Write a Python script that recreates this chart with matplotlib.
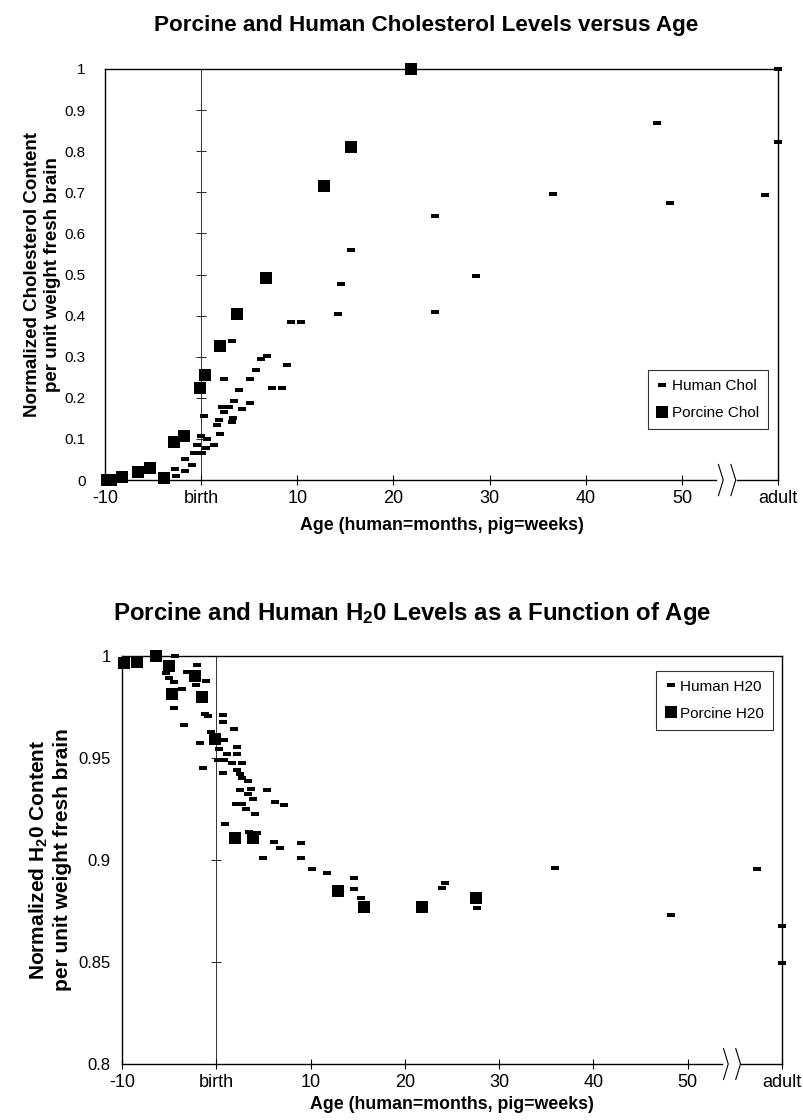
import matplotlib.pyplot as plt
import numpy as np
from matplotlib.lines import Line2D

plt.rcParams['font.family'] = ['Liberation Sans', 'DejaVu Sans']
plt.rcParams['mathtext.fontset'] = 'custom'
plt.rcParams['mathtext.rm'] = 'Liberation Sans:bold'
plt.rcParams['mathtext.default'] = 'rm'

# x axis: human = months, pig = weeks; "adult" is put at 60
xticks = [-10, 0, 10, 20, 30, 40, 50, 60]
xticklabels = ['-10', 'birth', '10', '20', '30', '40', '50', 'adult']

# cholesterol chart
chol_human_age = [-2.7, -2.6, -1.7, -1.7, -1.0, -0.7, -0.4, 0.07, 0.0, 0.5, 0.65, 0.3,
                  1.35, 2.0, 1.7, 1.9, 2.2, 2.4, 2.4, 2.9, 3.2, 3.3, 3.4, 3.2, 3.9, 4.2,
                  5.1, 5.1, 5.7, 6.2, 6.8, 7.4, 8.4, 8.9, 9.3, 10.4, 14.2, 14.5, 15.6,
                  24.3, 24.3, 28.6, 36.6, 47.4, 48.8, 58.6, 60, 60]
chol_human = [0.026, 0.01, 0.052, 0.023, 0.036, 0.065, 0.085, 0.065, 0.107, 0.077, 0.10,
              0.156, 0.085, 0.113, 0.134, 0.146, 0.178, 0.166, 0.245, 0.178, 0.142, 0.152,
              0.193, 0.338, 0.219, 0.172, 0.187, 0.245, 0.268, 0.294, 0.302, 0.223, 0.223,
              0.28, 0.384, 0.384, 0.403, 0.477, 0.56, 0.642, 0.41, 0.497, 0.696, 0.868,
              0.673, 0.693, 1.0, 0.823]
chol_pig_age = [-9.8, -9.4, -8.2, -6.6, -5.3, -3.9, -2.8, -1.8, -0.1, 0.35, 2.0, 3.7,
                6.7, 12.8, 15.6, 21.8]
chol_pig = [0.0, 0.0, 0.008, 0.02, 0.03, 0.006, 0.092, 0.107, 0.223, 0.255, 0.327, 0.405,
            0.492, 0.716, 0.81, 1.0]

# water chart
h2o_human_age = [-4.4, -5.0, -4.5, -5.3, -3.6, -4.5, -3.4, -2.0, -3.1, -2.1, -2.1, -2.1,
                 -1.05, -1.2, -0.9, -1.75, -1.4, 0.7, 0.7, 1.9, -0.6, 0.07, 0.8, 0.25, 1.1,
                 2.2, 2.2, 0.15, 0.8, 0.7, 1.65, 2.7, 2.2, 2.5, 2.7, 3.4, 2.5, 3.7, 3.4,
                 5.4, 3.9, 2.1, 2.7, 3.2, 4.1, 6.2, 7.2, 0.95, 3.5, 4.3, 5.0, 6.1, 6.8, 9.0,
                 9.0, 10.2, 11.7, 14.6, 14.6, 15.4, 23.9, 24.3, 27.7, 35.9, 48.2, 57.3,
                 60, 60]
h2o_human = [1.0, 0.9894, 0.9873, 0.9917, 0.984, 0.9747, 0.966, 0.9954, 0.992, 0.9914,
             0.9885, 0.9856, 0.9877, 0.9718, 0.9705, 0.9575, 0.945, 0.971, 0.9675, 0.964,
             0.9627, 0.9587, 0.9587, 0.9546, 0.952, 0.9554, 0.952, 0.9489, 0.9489, 0.9427,
             0.9473, 0.9476, 0.9443, 0.9423, 0.940, 0.9387, 0.9345, 0.935, 0.9322, 0.9345,
             0.930, 0.9273, 0.9276, 0.925, 0.9227, 0.9284, 0.927, 0.9175, 0.9137, 0.9132,
             0.9012, 0.909, 0.906, 0.9085, 0.9012, 0.8958, 0.8938, 0.8914, 0.886, 0.8814,
             0.8865, 0.8887, 0.8767, 0.896, 0.8732, 0.8958, 0.8675, 0.8495]
h2o_pig_age = [-9.76, -8.4, -6.35, -5.0, -4.7, -2.3, -1.5, -0.1, 2.0, 3.9, 12.9, 15.7,
               21.8, 27.6]
h2o_pig = [0.9966, 0.997, 1.0, 0.995, 0.9816, 0.990, 0.980, 0.9595, 0.911, 0.911, 0.885,
           0.877, 0.877, 0.8814]

dash = [(-1, -0.45), (1, -0.45), (1, 0.45), (-1, 0.45), (-1, -0.45)]


def draw(ax, hx, hy, px, py, ylim, yticks, yticklabels, names, yfs, ypad, sq, leg_anchor):
    ax.plot(hx, hy, ls='none', marker=dash, ms=6, color='black', mew=0, clip_on=False,
            zorder=4)
    ax.plot(px, py, ls='none', marker='s', ms=sq, color='black', mew=0, clip_on=False,
            zorder=5)
    ax.set_xlim(-10, 60)
    ax.set_ylim(*ylim)
    ax.set_xticks(xticks)
    ax.set_xticklabels(xticklabels)
    ax.set_yticks(yticks)
    ax.set_yticklabels(yticklabels)
    ax.tick_params(axis='y', length=0, labelsize=yfs, pad=ypad)
    ax.tick_params(axis='x', direction='inout', length=7, width=0.8, labelsize=13, pad=4)
    for s in ax.spines.values():
        s.set_linewidth(1.0)
    # birth line with its own ticks
    sec = ax.secondary_yaxis(1 / 7)
    sec.set_yticks(yticks)
    sec.tick_params(direction='inout', length=7, width=0.6, labelleft=False,
                    labelright=False)
    sec.spines['left'].set_linewidth(0.7)
    sec.spines['left'].set_color('#333333')
    # broken x axis
    ax.spines['bottom'].set_bounds(-10, 53.6)
    ax.plot([55.7, 60], [ylim[0], ylim[0]], color='black', lw=1.0, clip_on=False)
    tr = ax.get_xaxis_transform()
    for x0 in (53.8, 55.1):
        ax.plot([x0, x0 + 0.5, x0], [0.038, 0.0, -0.038], color='black', lw=0.8,
                transform=tr, clip_on=False)
    handles = [Line2D([], [], ls='none', marker=dash, ms=6, color='black', mew=0),
               Line2D([], [], ls='none', marker='s', ms=8, color='black', mew=0)]
    leg = ax.legend(handles, names, loc='upper right', bbox_to_anchor=leg_anchor,
                    frameon=True, fancybox=False, edgecolor='black', fontsize=11,
                    handlelength=0.7, handletextpad=0.25, borderpad=0.6,
                    labelspacing=0.85, borderaxespad=0)
    leg.get_frame().set_linewidth(0.8)


fig = plt.figure(figsize=(8.04, 11.2), dpi=100)

ax1 = fig.add_axes([0.1306, 0.5714, 0.8371, 0.367])
draw(ax1, chol_human_age, chol_human, chol_pig_age, chol_pig, (0, 1),
     [0, 0.1, 0.2, 0.3, 0.4, 0.5, 0.6, 0.7, 0.8, 0.9, 1.0],
     ['0', '0.1', '0.2', '0.3', '0.4', '0.5', '0.6', '0.7', '0.8', '0.9', '1'],
     ['Human Chol', 'Porcine Chol'], 11, 14, 8, (0.985, 0.268))
fig.text(0.53, 0.977, 'Porcine and Human Cholesterol Levels versus Age',
         ha='center', va='center', fontsize=16.2, fontweight='bold')
ax1.set_xlabel('Age (human=months, pig=weeks)', fontsize=12.8, fontweight='bold',
               labelpad=7)
ax1.set_ylabel('Normalized Cholesterol Content\nper unit weight fresh brain',
               fontsize=13.5, fontweight='bold')
ax1.yaxis.set_label_coords(-0.066, 0.5)

ax2 = fig.add_axes([0.1517, 0.05, 0.8209, 0.3643])
draw(ax2, h2o_human_age, h2o_human, h2o_pig_age, h2o_pig, (0.8, 1.0),
     [0.8, 0.85, 0.9, 0.95, 1.0], ['0.8', '0.85', '0.9', '0.95', '1'],
     ['Human H20', 'Porcine H20'], 12, 8, 8.5, (0.986, 0.964))
fig.text(0.512, 0.452, 'Porcine and Human H$_2$0 Levels as a Function of Age',
         ha='center', va='center', fontsize=17.3, fontweight='bold')
ax2.set_xlabel('Age (human=months, pig=weeks)', fontsize=12.8, fontweight='bold',
               labelpad=3)
ax2.set_ylabel('Normalized H$_2$0 Content\nper unit weight fresh brain',
               fontsize=15, fontweight='bold')
ax2.yaxis.set_label_coords(-0.076, 0.5)

plt.savefig('out.png', dpi=100)
